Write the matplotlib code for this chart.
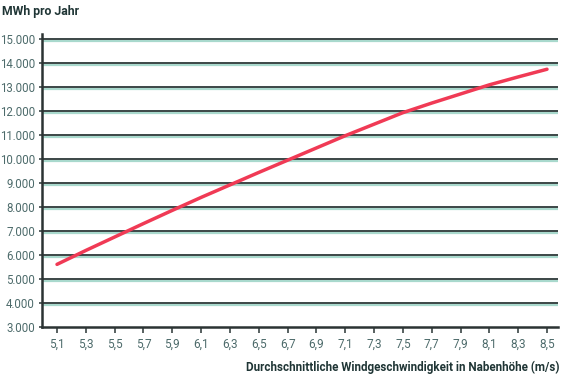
import matplotlib
matplotlib.use("Agg")
import matplotlib.pyplot as plt
from matplotlib.transforms import ScaledTranslation
import numpy as np

plt.rcParams['font.family'] = ['Roboto', 'DejaVu Sans']

wind_speed = [5.1, 5.3, 5.5, 5.7, 5.9, 6.1, 6.3, 6.5, 6.7, 6.9,
              7.1, 7.3, 7.5, 7.7, 7.9, 8.1, 8.3, 8.5]
mwh_per_year = [5610, 6190, 6750, 7310, 7860, 8400, 8920, 9440, 9950, 10460,
                10970, 11450, 11930, 12330, 12710, 13090, 13420, 13740]
x_tick_labels = ["5,1", "5,3", "5,5", "5,7", "5,9", "6,1", "6,3", "6,5", "6,7",
                 "6,9", "7,1", "7,3", "7,5", "7,7", "7,9", "8,1", "8,3", "8,5"]
y_ticks = [3000, 4000, 5000, 6000, 7000, 8000, 9000, 10000, 11000, 12000,
           13000, 14000, 15000]
y_tick_labels = ["3.000", "4.000", "5.000", "6.000", "7.000", "8.000", "9.000",
                 "10.000", "11.000", "12.000", "13.000", "14.000", "15.000"]

W, H = 579, 384
fig = plt.figure(figsize=(W / 100, H / 100), dpi=100)
left, right, top, bottom = 42, 558, 34, 327
ax = fig.add_axes([left / W, 1 - bottom / H, (right - left) / W, (bottom - top) / H])

ax.set_xlim(5.1 - 15 / 144, 8.5 + 11 / 144)
ax.set_ylim(3000, 15000 + 1000 * 5 / 24)

dark = "#3b4646"
teal = "#a9d9cd"
label_col = "#4d6b6b"

shadow = ax.get_yaxis_transform() + ScaledTranslation(0, -1.6 / 72, fig.dpi_scale_trans)
for y in y_ticks[1:]:
    ax.plot([0, 1], [y, y], color=teal, lw=1.6, transform=shadow, zorder=1,
            solid_capstyle='butt')
    ax.plot([0, 1], [y, y], color=dark, lw=1.4, transform=ax.get_yaxis_transform(),
            zorder=2, solid_capstyle='butt')

ax.plot(wind_speed, mwh_per_year, color="#f03a55", lw=2.5, zorder=3,
        solid_capstyle='round')

for s in ["top", "right"]:
    ax.spines[s].set_visible(False)
for s in ["left", "bottom"]:
    ax.spines[s].set_color("#2b3333")
    ax.spines[s].set_linewidth(1.8)

ax.set_xticks(wind_speed)
ax.set_xticklabels(x_tick_labels)
ax.set_yticks(y_ticks)
ax.set_yticklabels(y_tick_labels)
ax.tick_params(axis='x', direction='out', length=4, width=1.2, color=dark,
               labelsize=8.5, labelcolor=label_col, pad=4)
ax.tick_params(axis='y', direction='out', length=2, width=1.2, color=dark,
               labelsize=8.3, labelcolor=label_col, pad=3)

fig.text(2 / W, 1 - 12 / H, "MWh pro Jahr", fontsize=8.8, fontweight='bold',
         color="#1f3535", ha='left', va='center')
fig.text(560 / W, 1 - 367 / H,
         "Durchschnittliche Windgeschwindigkeit in Nabenhöhe (m/s)",
         fontsize=8.4, fontweight='bold', color="#1f3535", ha='right', va='center')

fig.savefig("out.png", dpi=100, facecolor="white")
